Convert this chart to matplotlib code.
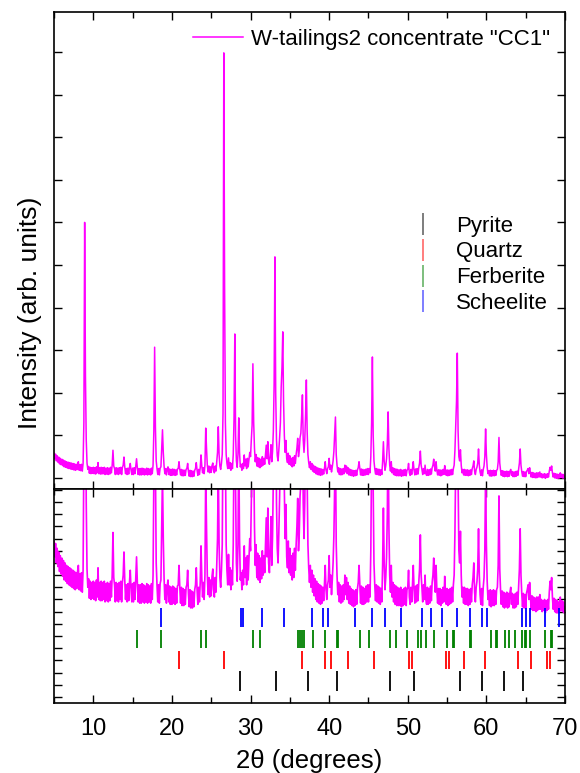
import numpy as np
import matplotlib
matplotlib.use("Agg")
import matplotlib.pyplot as plt
from matplotlib.lines import Line2D
from matplotlib.ticker import MultipleLocator

plt.rcParams['font.family'] = ['Liberation Sans', 'DejaVu Sans']

# ---------------- data ----------------
two_theta_start = 5.0
two_theta_step = 0.1
# intensity (arb. units), one row per degree: d.0 ... d.9
intensity = [
    0.58, 0.45, 0.56, 0.40, 0.52, 0.37, 0.49, 0.33, 0.46, 0.31,   # 5
    0.44, 0.29, 0.42, 0.26, 0.40, 0.25, 0.38, 0.23, 0.37, 0.22,   # 6
    0.36, 0.21, 0.35, 0.20, 0.34, 0.19, 0.33, 0.18, 0.32, 0.19,   # 7
    0.33, 0.38, 0.18, 0.31, 0.17, 0.32, 0.16, 0.34, 1.30, 6.00,   # 8
    2.40, 0.90, 0.35, 0.20, 0.27, 0.11, 0.25, 0.10, 0.24, 0.11,   # 9
    0.25, 0.10, 0.24, 0.09, 0.26, 0.12, 0.36, 0.10, 0.24, 0.09,   # 10
    0.25, 0.09, 0.24, 0.10, 0.25, 0.08, 0.23, 0.09, 0.24, 0.08,   # 11
    0.23, 0.09, 0.25, 0.12, 0.30, 0.65, 0.28, 0.22, 0.08, 0.24,   # 12
    0.09, 0.23, 0.08, 0.24, 0.10, 0.25, 0.08, 0.24, 0.30, 0.49,   # 13
    0.26, 0.10, 0.22, 0.08, 0.23, 0.09, 0.24, 0.34, 0.18, 0.08,   # 14
    0.23, 0.08, 0.24, 0.10, 0.27, 0.45, 0.24, 0.08, 0.22, 0.07,   # 15
    0.22, 0.07, 0.23, 0.08, 0.22, 0.07, 0.21, 0.08, 0.23, 0.07,   # 16
    0.22, 0.08, 0.21, 0.07, 0.23, 0.10, 0.30, 1.10, 3.07, 1.20,   # 17
    0.40, 0.22, 0.08, 0.22, 0.07, 0.23, 0.26, 0.70, 1.13, 0.60,   # 18
    0.28, 0.10, 0.22, 0.07, 0.21, 0.26, 0.08, 0.21, 0.06, 0.20,   # 19
    0.06, 0.21, 0.07, 0.20, 0.06, 0.19, 0.07, 0.21, 0.22, 0.38,   # 20
    0.20, 0.07, 0.20, 0.05, 0.19, 0.05, 0.18, 0.06, 0.20, 0.22,   # 21
    0.34, 0.15, 0.04, 0.18, 0.03, 0.17, 0.03, 0.16, 0.04, 0.18,   # 22
    0.22, 0.36, 0.18, 0.06, 0.20, 0.08, 0.24, 0.54, 0.28, 0.12,   # 23
    0.24, 0.10, 0.30, 1.17, 0.70, 0.30, 0.14, 0.28, 0.12, 0.26,   # 24
    0.13, 0.29, 0.35, 0.18, 0.12, 0.28, 0.16, 0.38, 0.60, 1.20,   # 25
    0.55, 0.28, 0.20, 0.34, 0.55, 1.53, 9.98, 4.50, 1.30, 0.55,   # 26
    0.34, 0.22, 0.47, 0.22, 0.36, 0.18, 0.34, 0.22, 0.55, 1.40,   # 27
    3.38, 1.00, 0.40, 0.25, 0.55, 1.41, 0.60, 0.26, 0.32, 0.18,   # 28
    0.34, 0.22, 0.54, 0.28, 0.44, 0.22, 0.46, 0.26, 0.42, 0.60,   # 29
    0.50, 0.90, 1.24, 2.68, 1.30, 0.70, 0.38, 0.55, 0.28, 0.48,   # 30
    0.26, 0.46, 0.24, 0.44, 0.27, 0.50, 0.30, 0.46, 0.32, 0.55,   # 31
    0.77, 0.45, 0.85, 0.40, 0.32, 0.52, 0.78, 0.38, 0.62, 1.10,   # 32
    2.20, 5.19, 2.00, 0.90, 0.52, 0.40, 0.65, 0.95, 1.30, 2.14,   # 33
    2.60, 3.43, 1.80, 1.00, 0.60, 0.88, 0.45, 0.36, 0.58, 0.32,   # 34
    0.52, 0.30, 0.46, 0.26, 0.48, 0.28, 0.52, 0.34, 0.55, 0.70,   # 35
    0.93, 0.50, 0.65, 0.95, 1.05, 1.45, 1.95, 0.90, 0.60, 0.90,   # 36
    1.50, 2.30, 1.10, 0.55, 0.36, 0.24, 0.38, 0.20, 0.34, 0.16,   # 37
    0.30, 0.13, 0.27, 0.10, 0.25, 0.08, 0.23, 0.07, 0.22, 0.06,   # 38
    0.21, 0.07, 0.20, 0.09, 0.22, 0.38, 0.18, 0.10, 0.22, 0.26,   # 39
    0.46, 0.20, 0.30, 0.14, 0.26, 0.40, 0.62, 1.05, 1.43, 0.55,   # 40
    0.30, 0.14, 0.24, 0.08, 0.22, 0.07, 0.21, 0.08, 0.22, 0.10,   # 41
    0.30, 0.14, 0.28, 0.10, 0.24, 0.07, 0.21, 0.06, 0.19, 0.05,   # 42
    0.18, 0.04, 0.17, 0.05, 0.18, 0.06, 0.19, 0.24, 0.38, 0.22,   # 43
    0.07, 0.21, 0.06, 0.20, 0.06, 0.19, 0.07, 0.21, 0.08, 0.22,   # 44
    0.08, 0.22, 0.12, 0.50, 1.30, 2.84, 1.00, 0.40, 0.22, 0.09,   # 45
    0.22, 0.08, 0.21, 0.07, 0.20, 0.06, 0.19, 0.08, 0.38, 0.85,   # 46
    0.40, 0.18, 0.28, 0.45, 0.80, 1.55, 0.70, 0.30, 0.16, 0.38,   # 47
    0.12, 0.24, 0.08, 0.22, 0.06, 0.21, 0.05, 0.20, 0.05, 0.19,   # 48
    0.05, 0.20, 0.04, 0.18, 0.05, 0.19, 0.06, 0.20, 0.05, 0.18,   # 49
    0.20, 0.34, 0.12, 0.06, 0.20, 0.08, 0.22, 0.38, 0.18, 0.07,   # 50
    0.21, 0.08, 0.22, 0.09, 0.24, 0.35, 0.63, 0.30, 0.20, 0.08,   # 51
    0.22, 0.10, 0.30, 0.10, 0.06, 0.20, 0.06, 0.19, 0.07, 0.21,   # 52
    0.09, 0.24, 0.30, 0.44, 0.26, 0.16, 0.38, 0.18, 0.07, 0.19,   # 53
    0.06, 0.19, 0.05, 0.18, 0.07, 0.20, 0.08, 0.29, 0.15, 0.06,   # 54
    0.19, 0.05, 0.18, 0.06, 0.19, 0.07, 0.20, 0.08, 0.22, 0.30,   # 55
    0.65, 1.20, 1.80, 2.93, 1.10, 0.50, 0.40, 0.66, 0.30, 0.12,   # 56
    0.20, 0.07, 0.20, 0.06, 0.19, 0.06, 0.19, 0.05, 0.18, 0.06,   # 57
    0.19, 0.08, 0.22, 0.28, 0.40, 0.16, 0.08, 0.20, 0.25, 0.35,   # 58
    0.68, 0.30, 0.14, 0.06, 0.19, 0.05, 0.20, 0.28, 0.50, 1.15,   # 59
    0.55, 0.25, 0.10, 0.17, 0.05, 0.18, 0.04, 0.17, 0.05, 0.18,   # 60
    0.05, 0.17, 0.06, 0.18, 0.20, 0.38, 0.95, 0.35, 0.18, 0.06,   # 61
    0.17, 0.04, 0.16, 0.03, 0.15, 0.04, 0.16, 0.03, 0.15, 0.04,   # 62
    0.16, 0.20, 0.06, 0.15, 0.03, 0.14, 0.03, 0.15, 0.04, 0.16,   # 63
    0.06, 0.20, 0.35, 0.68, 0.30, 0.15, 0.04, 0.15, 0.03, 0.14,   # 64
    0.03, 0.15, 0.18, 0.22, 0.10, 0.24, 0.12, 0.02, 0.13, 0.01,   # 65
    0.12, 0.01, 0.11, 0.00, 0.12, 0.01, 0.12, 0.02, 0.14, 0.02,   # 66
    0.10, 0.00, 0.09, 0.01, 0.10, -0.01, 0.09, 0.01, 0.10, 0.02,  # 67
    0.16, 0.25, 0.18, 0.28, 0.12, 0.02, 0.11, 0.00, 0.10, -0.01,  # 68
    0.09, -0.01, 0.08, 0.00, 0.12, 0.01, 0.09, 0.00, 0.08, -0.01, # 69
    0.04,                                                         # 70
]

scheelite = [18.65, 28.75, 29.0, 31.4, 34.2, 37.8, 39.2, 39.9, 43.3, 45.4, 47.1,
             49.1, 51.8, 52.9, 54.3, 56.3, 57.9, 59.4, 60.1, 64.5, 65.1, 65.6,
             67.5, 69.2]
ferberite = [15.5, 18.65, 23.7, 24.3, 30.3, 31.25, 36.1, 36.3, 36.6, 36.75, 37.9,
             39.5, 41.0, 41.1, 43.9, 45.1, 47.7, 48.5, 49.9, 51.3, 51.65, 52.3,
             53.3, 55.0, 55.7, 55.9, 57.9, 58.1, 60.6, 61.2, 61.3, 62.4, 62.9,
             63.7, 64.5, 64.9, 65.1, 65.5, 67.5, 68.2, 68.4]
quartz = [20.9, 26.6, 36.55, 39.5, 40.25, 42.45, 45.75, 50.1, 50.6, 54.9, 55.25,
          57.2, 59.8, 64.0, 65.7, 67.7, 68.1]
pyrite = [28.7, 33.3, 37.35, 41.05, 47.75, 50.8, 56.65, 59.5, 62.2, 64.7]

phase_names = ['Pyrite', 'Quartz', 'Ferberite', 'Scheelite']
sample_label = 'W-tailings2 concentrate "CC1"'
x_ticks = [10, 20, 30, 40, 50, 60, 70]

# ---------------- figure ----------------
two_theta = two_theta_start + two_theta_step * np.arange(len(intensity))
y = np.array(intensity)

fig = plt.figure(figsize=(5.8, 7.73), dpi=100)
L, W = 54 / 580, 511 / 580
ax1 = fig.add_axes([L, (773 - 489) / 773, W, (489 - 12) / 773])
ax2 = fig.add_axes([L, (773 - 703) / 773, W, 214 / 773], sharex=ax1)

magenta = '#FF00FF'
ax1.plot(two_theta, y, color=magenta, lw=1.1, label=sample_label)
ax2.plot(two_theta, y, color=magenta, lw=1.2)

ax1.set_xlim(5, 70)
ax1.set_ylim(-0.26, 10.94)
ax2.set_ylim(-0.75, 1.007)

# reflection markers
rows = [(scheelite, 'blue', -0.125, 0.03),
        (ferberite, 'green', -0.30, -0.15),
        (quartz, 'red', -0.47, -0.32),
        (pyrite, 'black', -0.65, -0.49)]
for pos, col, y0, y1 in rows:
    ax2.vlines(pos, y0, y1, colors=col, lw=1.3)

for ax in (ax1, ax2):
    for s in ax.spines.values():
        s.set_linewidth(1.2)
    ax.xaxis.set_major_locator(MultipleLocator(10))
    ax.xaxis.set_minor_locator(MultipleLocator(5))
    ax.tick_params(which='both', direction='in', top=True, right=True,
                   labelleft=False, width=1.0)
    ax.tick_params(which='major', length=6)
    ax.tick_params(which='minor', length=4)

ax1.yaxis.set_major_locator(MultipleLocator(1))
ax2.yaxis.set_major_locator(MultipleLocator(0.1))
ax1.tick_params(labelbottom=False)
ax2.set_xticks(x_ticks)
ax2.tick_params(axis='x', labelsize=17, pad=11)
ax2.set_xlabel('2\u03b8 (degrees)', fontsize=18.5, labelpad=6)

fig.text(30 / 580, 1 - 313 / 773, 'Intensity (arb. units)', rotation=90,
         fontsize=19, ha='center', va='center')

leg1 = ax1.legend(loc='upper right', bbox_to_anchor=(0.988, 0.984), frameon=False,
                  fontsize=16, handlelength=2.25, handletextpad=0.36, borderaxespad=0)
ax1.add_artist(leg1)

handles = [Line2D([], [], marker='|', linestyle='None', markersize=16, mew=1.3,
                  color=c, alpha=0.55) for c in ['black', 'red', 'green', 'blue']]
ax1.legend(handles, phase_names, loc='upper left', bbox_to_anchor=(0.683, 0.592),
           frameon=False, fontsize=16, handlelength=1.0, handletextpad=1.0,
           labelspacing=0.22, borderaxespad=0)

fig.savefig('out.png', dpi=100)
